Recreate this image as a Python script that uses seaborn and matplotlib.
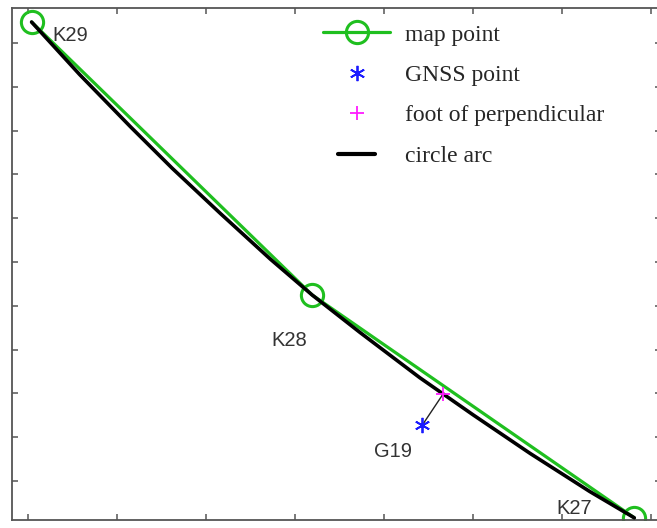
import matplotlib
matplotlib.use("Agg")
import matplotlib.pyplot as plt
import seaborn as sns
from matplotlib.lines import Line2D
from matplotlib.legend_handler import HandlerLine2D
from matplotlib.font_manager import FontProperties

# map points K29, K28, K27 (plot units)
map_x = [0.04, 3.19, 6.81]
map_y = [10.48, 4.25, -0.84]

# fitted circle arc
arc_x = [0.04, 0.58, 1.15, 1.62, 2.16, 2.72, 3.19, 3.73, 4.40, 5.00, 5.64, 6.31, 6.81]
arc_y = [10.48, 9.28, 8.09, 7.14, 6.11, 5.07, 4.25, 3.39, 2.36, 1.51, 0.63, -0.24, -0.84]

# GNSS point G19 and its foot of perpendicular on the arc
gnss_x = [4.43]
gnss_y = [1.28]
foot_x = [4.66]
foot_y = [1.98]

# point labels
label_text = ['K29', 'K28', 'G19', 'K27']
label_x = [0.27, 2.93, 4.10, 6.13]
label_y = [10.18, 3.20, 0.68, -0.62]
label_ha = ['left', 'center', 'center', 'center']

colors = {
    'green': '#1fbf1f',
    'blue': '#1a1aff',
    'magenta': '#ff1aff',
    'axis': '#555555',
    'text': '#333333',
}


class ShortLine(HandlerLine2D):
    """Draw the legend line shorter than the others (as in the original)."""
    def create_artists(self, legend, orig_handle, xdescent, ydescent,
                       width, height, fontsize, trans):
        return super().create_artists(legend, orig_handle,
                                      xdescent - 0.225 * width, ydescent,
                                      0.55 * width, height, fontsize, trans)


sns.set_theme(style='white')
plt.rcParams['font.family'] = ['Liberation Sans', 'DejaVu Sans']

W, H = 657, 528
fig = plt.figure(figsize=(W / 100, H / 100), dpi=100)
ax = fig.add_axes([12 / W, 8 / H, (661 - 12) / W, (520 - 8) / H])

sns.lineplot(x=map_x, y=map_y, sort=False, ax=ax, color=colors['green'],
             lw=2.3, marker='o', markersize=16, markerfacecolor='none',
             markeredgecolor=colors['green'], markeredgewidth=2.2, zorder=2)
sns.lineplot(x=arc_x, y=arc_y, sort=False, ax=ax, color='black', lw=2.6,
             zorder=3)

# perpendicular from GNSS point to the arc
ax.plot(gnss_x + foot_x, gnss_y + foot_y, color='#222222', lw=1.0, zorder=4)
ax.plot(gnss_x, gnss_y, ls='none', marker=(6, 2, 0), ms=11,
        color=colors['blue'], mew=1.3, zorder=5)
ax.plot(foot_x, foot_y, ls='none', marker='+', ms=10,
        color=colors['magenta'], mew=1.3, zorder=5)

for t, x, y, ha in zip(label_text, label_x, label_y, label_ha):
    ax.text(x, y, t, ha=ha, va='center', fontsize=14.5, color=colors['text'])

ax.set_xlim(-0.18, 7.11)
ax.set_ylim(-0.89, 10.80)
ax.set_xticks(range(0, 8))
ax.set_yticks(range(0, 11))
ax.tick_params(direction='in', length=4, width=1.1, color=colors['axis'],
               top=True, right=True, bottom=True, left=True,
               labelbottom=False, labelleft=False)
for s in ax.spines.values():
    s.set_color(colors['axis'])
    s.set_linewidth(1.3)

handles = [
    Line2D([], [], color=colors['green'], lw=2.3, marker='o', ms=16,
           mfc='none', mec=colors['green'], mew=2.2),
    Line2D([], [], ls='none', marker=(6, 2, 0), ms=11, color=colors['blue'], mew=1.3),
    Line2D([], [], ls='none', marker='+', ms=10, color=colors['magenta'], mew=1.3),
    Line2D([], [], color='black', lw=3.0),
]
labels = ['map point', 'GNSS point', 'foot of perpendicular', 'circle arc']
ax.legend(handles, labels, loc='upper left',
          bbox_to_anchor=(323 / W, 1 - 24 / H), bbox_transform=fig.transFigure,
          frameon=False, borderpad=0, borderaxespad=0,
          handlelength=2.84, handletextpad=0.64, labelspacing=0.8,
          handler_map={handles[3]: ShortLine()},
          prop=FontProperties(family='Liberation Serif', size=17))

fig.savefig('out.png', dpi=100)
plt.close(fig)
